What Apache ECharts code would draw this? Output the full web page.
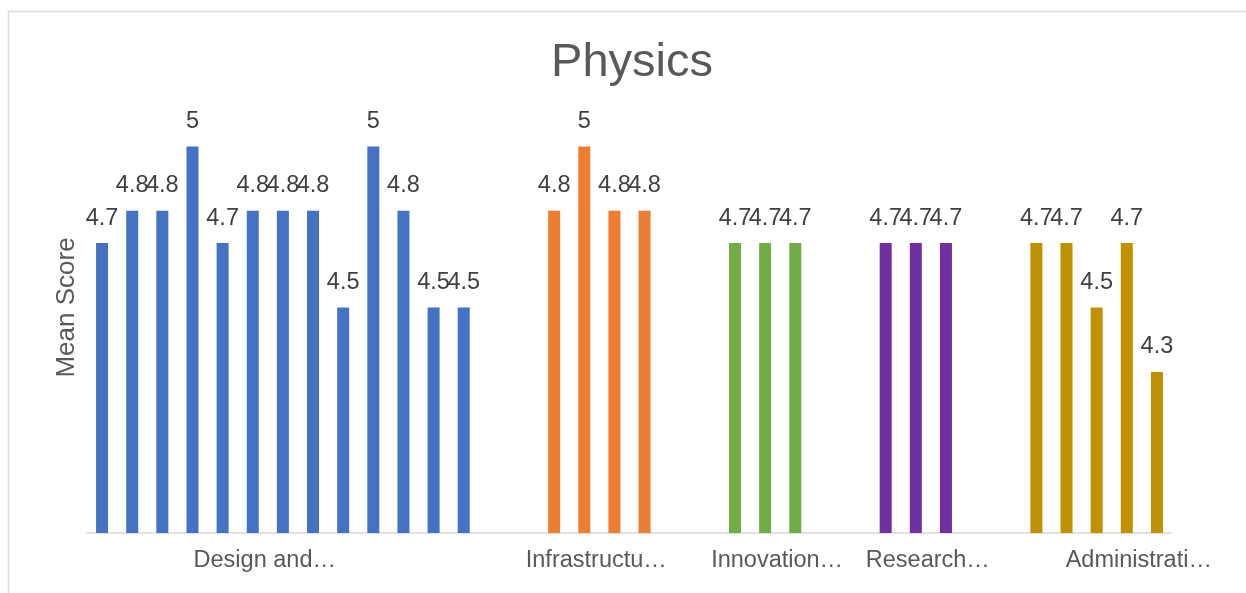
<!DOCTYPE html>
<html>
<head>
<meta charset="utf-8">
<script src="https://cdn.jsdelivr.net/npm/echarts@6/dist/echarts.min.js"></script>
<style>
  html, body { margin: 0; padding: 0; background: #ffffff; }
  #chart { width: 1246px; height: 593px; }
</style>
</head>
<body>
<div id="chart"></div>
<script>
const groupNames = ['Design and…', 'Infrastructu…', 'Innovation…', 'Research…', 'Administrati…'];
const designScores = [4.7, 4.8, 4.8, 5, 4.7, 4.8, 4.8, 4.8, 4.5, 5, 4.8, 4.5, 4.5];
const infrastructureScores = [4.8, 5, 4.8, 4.8];
const innovationScores = [4.7, 4.7, 4.7];
const researchScores = [4.7, 4.7, 4.7];
const administrationScores = [4.7, 4.7, 4.5, 4.7, 4.3];
const groupColors = ['#4472C4', '#ED7D31', '#70AD47', '#7030A0', '#BF9000'];

const groupScores = [designScores, infrastructureScores, innovationScores, researchScores, administrationScores];

// one slot per bar, two empty slots between groups
const gapSlots = 2;
// slot under which each group's (truncated) name sits
const labelOffsetInGroup = [5, 1, 1, 1, 3];

let slots = [];
let starts = [];
groupScores.forEach(function (scores, g) {
    if (g > 0) {
        for (let k = 0; k < gapSlots; k++) slots.push('');
    }
    starts.push(slots.length);
    scores.forEach(function () { slots.push(''); });
});
groupNames.forEach(function (name, g) {
    slots[starts[g] + labelOffsetInGroup[g]] = name;
});

const series = groupScores.map(function (scores, g) {
    const data = slots.map(function () { return '-'; });
    scores.forEach(function (v, i) { data[starts[g] + i] = v; });
    return {
        type: 'bar',
        data: data,
        barWidth: 12,
        barGap: '-100%',
        itemStyle: { color: groupColors[g] },
        label: {
            show: true,
            position: 'top',
            distance: 13,
            fontSize: 23.5,
            color: '#404040'
        },
        animation: false
    };
});

const chart = echarts.init(document.getElementById('chart'), null, { renderer: 'canvas' });
chart.setOption({
    animation: false,
    textStyle: { fontFamily: 'Liberation Sans, Arial, sans-serif' },
    title: {
        text: 'Physics',
        left: 627,
        textAlign: 'center',
        top: 35,
        textStyle: { fontSize: 47, fontWeight: 'normal', color: '#595959' }
    },
    graphic: [{
        type: 'rect',
        shape: { x: 8.5, y: 11.5, width: 1400, height: 800 },
        style: { fill: 'none', stroke: '#D9D9D9', lineWidth: 1.5 },
        silent: true
    }],
    grid: {
        left: 87,
        right: 74,
        top: 82,
        bottom: 60,
        containLabel: false,
        outerBoundsMode: 'none'
    },
    xAxis: {
        type: 'category',
        data: slots,
        axisTick: { show: false },
        axisLine: { lineStyle: { color: '#D9D9D9', width: 1.5 } },
        axisLabel: {
            interval: 0,
            fontSize: 23.5,
            color: '#595959',
            margin: 16,
            padding: [0, 0, 0, 24]
        }
    },
    yAxis: {
        type: 'value',
        min: 3.8,
        max: 5.2,
        axisLabel: { show: false },
        axisLine: { show: false },
        axisTick: { show: false },
        splitLine: { show: false },
        name: 'Mean Score',
        nameLocation: 'middle',
        nameGap: 7,
        nameTextStyle: { fontSize: 26, color: '#595959' }
    },
    series: series
});
</script>
</body>
</html>
